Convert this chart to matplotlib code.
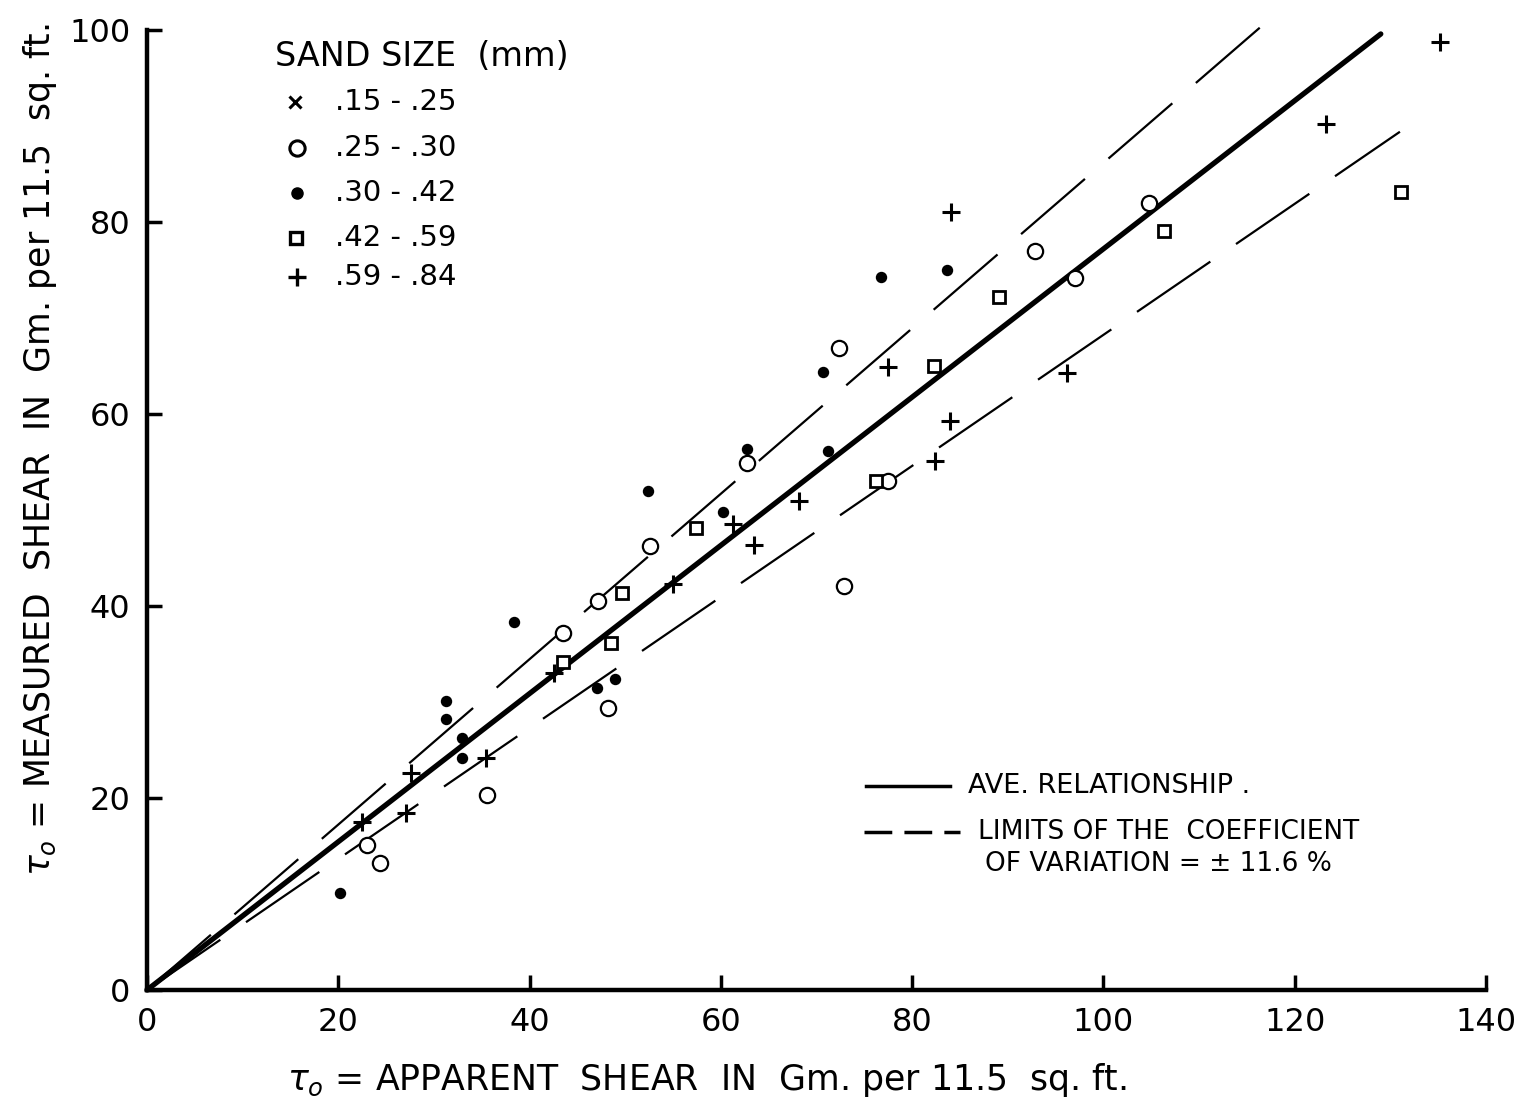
import matplotlib
matplotlib.use("Agg")
import matplotlib.pyplot as plt
import numpy as np

plt.rcParams['font.family'] = ['DejaVu Sans']

# ---- data ----
circle_x = [23.0, 24.4, 35.5, 43.5, 47.2, 48.2, 52.6, 62.7, 72.4, 72.9, 77.5, 92.8, 97.0, 104.8]
circle_y = [15.1, 13.2, 20.3, 37.2, 40.5, 29.4, 46.3, 54.9, 66.9, 42.1, 53.0, 77.0, 74.2, 82.0]

dot_x = [20.2, 31.3, 31.3, 32.9, 32.9, 38.4, 47.1, 48.9, 52.4, 60.2, 62.7, 70.7, 71.2, 76.7, 83.6]
dot_y = [10.1, 30.1, 28.2, 26.2, 24.2, 38.3, 31.5, 32.4, 52.0, 49.8, 56.4, 64.4, 56.1, 74.3, 75.0]

square_x = [43.5, 48.5, 49.7, 57.4, 76.2, 82.3, 89.1, 106.3, 131.1]
square_y = [34.2, 36.1, 41.4, 48.1, 53.0, 65.0, 72.2, 79.1, 83.1]

plus_x = [22.5, 27.1, 27.6, 35.4, 42.6, 55.0, 61.3, 63.5, 68.2, 77.5, 82.4, 84.0, 84.1, 96.2, 123.3, 135.2]
plus_y = [17.5, 18.4, 22.6, 24.2, 33.0, 42.3, 48.5, 46.4, 50.9, 64.9, 55.1, 59.3, 81.0, 64.3, 90.2, 98.8]

ave_slope = 0.772
cov = 0.116
ave_x_end = 129.0
upper_x_end = 118.0
lower_x_end = 131.0

legend_labels = [".15 - .25", ".25 - .30", ".30 - .42", ".42 - .59", ".59 - .84"]
xticks = [0, 20, 40, 60, 80, 100, 120, 140]
yticks = [0, 20, 40, 60, 80, 100]

# ---- figure ----
fig = plt.figure(figsize=(15.31, 11.02), dpi=100)
ax = fig.add_axes([147/1531, 1-990/1102, (1486-147)/1531, (990-30)/1102])
ax.set_xlim(0, 140)
ax.set_ylim(0, 100)

# lines
xa = np.array([0, ave_x_end])
ax.plot(xa, ave_slope*xa, color='black', lw=3.8, solid_capstyle='round', zorder=3, clip_on=False)
xu = np.array([0, upper_x_end])
ax.plot(xu, ave_slope*(1+cov)*xu, color='black', lw=1.6, dashes=(38, 14), clip_on=False, zorder=3)
xl = np.array([0, lower_x_end])
ax.plot(xl, ave_slope*(1-cov)*xl, color='black', lw=1.6, dashes=(40, 14), clip_on=False, zorder=3)

# points
ax.plot(circle_x, circle_y, 'o', ms=11, mfc='white', mec='black', mew=1.6, ls='none', zorder=4, clip_on=False)
ax.plot(dot_x, dot_y, 'o', ms=7, mfc='black', mec='black', mew=1.2, ls='none', zorder=4, clip_on=False)
ax.plot(square_x, square_y, 's', ms=8.5, mfc='white', mec='black', mew=2.0, ls='none', zorder=4, clip_on=False)
ax.plot(plus_x, plus_y, '+', ms=13, mec='black', mew=2.2, ls='none', zorder=4, clip_on=False)

# axes styling
for s in ['top', 'right']:
    ax.spines[s].set_visible(False)
ax.spines['left'].set_linewidth(3.2)
ax.spines['bottom'].set_linewidth(3.2)
ax.set_xticks(xticks)
ax.set_yticks(yticks)
ax.tick_params(direction='in', length=11, width=2.5, labelsize=23, pad=12)
ax.set_xticklabels([str(t) for t in xticks])
ax.set_yticklabels([str(t) for t in yticks])

fig.text(707/1531, 1-1080/1102, r'$\tau_o$ = APPARENT  SHEAR  IN  Gm. per 11.5  sq. ft.',
         ha='center', va='center', fontsize=25)
fig.text(40/1531, 1-450/1102, r'$\tau_o$ = MEASURED  SHEAR  IN  Gm. per 11.5  sq. ft.',
         ha='center', va='center', fontsize=25, rotation=90)

# legends, placed in figure pixel coordinates
lax = fig.add_axes([0, 0, 1, 1], facecolor='none')
lax.set_xlim(0, 1531)
lax.set_ylim(1102, 0)
lax.axis('off')

lax.text(275, 57, 'SAND SIZE  (mm)', ha='left', va='center', fontsize=24)
rows = [102, 148, 193, 238, 277]
lax.plot([295], [rows[0]], 'x', ms=8, mec='black', mew=2.2)
lax.plot([297], [rows[1]], 'o', ms=11, mfc='white', mec='black', mew=2.2)
lax.plot([297], [rows[2]], 'o', ms=8, mfc='black', mec='black')
lax.plot([296], [rows[3]], 's', ms=8, mfc='white', mec='black', mew=2.4)
lax.plot([297], [rows[4]], '+', ms=13, mec='black', mew=2.4)
for r, lab in zip(rows, legend_labels):
    lax.text(335, r, lab, ha='left', va='center', fontsize=21)

# line legend (bottom-right)
lax.plot([866, 950], [786, 786], color='black', lw=2.5)
lax.text(968, 786, 'AVE. RELATIONSHIP .', ha='left', va='center', fontsize=19.5)
lax.plot([864, 960], [832, 832], color='black', lw=2.5, dashes=(8, 3.5))
lax.text(978, 832, 'LIMITS OF THE  COEFFICIENT', ha='left', va='center', fontsize=19)
lax.text(985, 864, 'OF VARIATION = \u00b1 11.6 %', ha='left', va='center', fontsize=19)

fig.savefig('out.png', dpi=100)
